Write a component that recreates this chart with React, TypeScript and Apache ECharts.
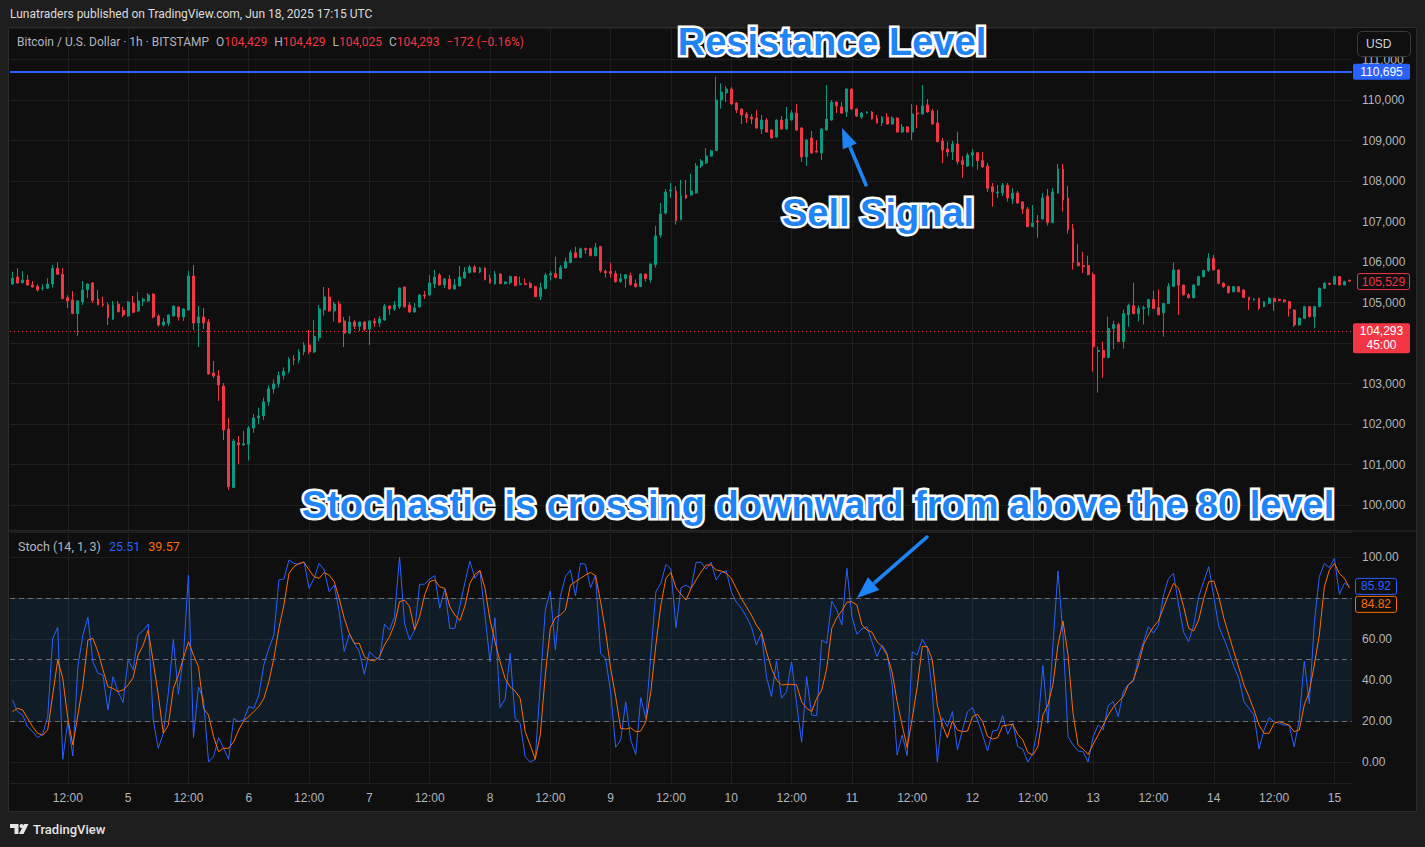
import { useEffect, useRef } from 'react';
import * as echarts from 'echarts';

// ---------- data (BTC/USD 1h, Bitstamp, Jun 4 01:00 -> Jun 15 03:00) ----------
const opens = [
  105457, 105630, 105490, 105556, 105432, 105400, 105350, 105350, 105457, 105845,
  105700, 105120, 105060, 104725, 105020, 105320, 105482, 105087, 104963, 104940,
  104588, 104963, 104800, 104667, 104988, 104790, 105035, 105037, 105210, 104667,
  104445, 104490, 104667, 104890, 104642, 104815, 105655, 104494, 104642, 104519,
  103260, 103190, 102939, 101877, 100430, 101540, 101482, 101500, 101900, 102150,
  102200, 102550, 102870, 102990, 103200, 103300, 103600, 103580, 103780, 103951,
  103780, 104136, 104815, 105136, 104790, 104963, 104544, 104242, 104519, 104413,
  104519, 104346, 104544, 104494, 104568, 104914, 104840, 104890, 105383, 104939,
  104766, 104890, 105185, 105185, 105457, 105679, 105432, 105580, 105334, 105407,
  105605, 105740, 105877, 105753, 105852, 105590, 105466, 105704, 105466, 105490,
  105640, 105442, 105466, 105466, 105392, 105145, 105343, 105679, 105713, 105590,
  105852, 105985, 106230, 106110, 106330, 106330, 106157, 106380, 105765, 105765,
  105713, 105515, 105590, 105664, 105466, 105392, 105704, 105565, 105935, 106667,
  107210, 107753, 107753, 107047, 107655, 107655, 107704, 108370, 108445, 108617,
  108750, 110000, 110173, 110272, 109926, 109778, 109655, 109580, 109556, 109284,
  109506, 109260, 109087, 109506, 109284, 109506, 109679, 109309, 108593, 109062,
  108740, 108691, 109259, 109506, 109950, 109827, 109704, 110272, 109778, 109580,
  109679, 109704, 109556, 109432, 109580, 109407, 109556, 109210, 109333, 109210,
  109679, 109655, 109877, 109729, 109432, 108988, 108790, 108716, 108914, 108503,
  108371, 108642, 108700, 108503, 108370, 107860, 107704, 107704, 107895, 107556,
  107704, 107482, 107309, 106872, 107013, 107062, 107630, 106976, 107704, 108296,
  107580, 106825, 105985, 105910, 105910, 105689, 103790, 103815, 103640, 104356,
  104454, 104035, 104700, 104923, 104725, 104850, 104874, 105072, 104874, 104750,
  104973, 105400, 105803, 105430, 105190, 105120, 105430, 105638, 105790, 106091,
  105803, 105474, 105400, 105267, 105391, 105309, 105128, 105062, 105103, 104897,
  104980, 105103, 105080, 105062, 105021, 104815, 104445, 104610, 104897, 104650,
  104897, 105350, 105474, 105450, 105638, 105432, 105550,
];
const closes = [
  105598, 105482, 105556, 105432, 105383, 105310, 105360, 105457, 105845, 105700,
  105096, 105040, 104733, 105040, 105309, 105457, 105047, 104948, 104940, 104627,
  104940, 104773, 104692, 105013, 104758, 105037, 105080, 105185, 104642, 104445,
  104519, 104692, 104914, 104642, 104840, 105655, 104494, 104642, 104494, 103235,
  103186, 102963, 101852, 100452, 101581, 101482, 101510, 101900, 102150, 102200,
  102550, 102870, 102990, 103200, 103300, 103600, 103580, 103780, 103951, 103780,
  104160, 104840, 105136, 104790, 104963, 104511, 104242, 104519, 104413, 104519,
  104340, 104544, 104494, 104593, 104914, 104840, 104939, 105358, 104890, 104766,
  104864, 105185, 105160, 105482, 105630, 105432, 105580, 105334, 105432, 105630,
  105753, 105877, 105753, 105852, 105564, 105490, 105704, 105466, 105507, 105640,
  105417, 105466, 105442, 105368, 105145, 105368, 105679, 105713, 105614, 105861,
  106008, 106230, 106110, 106330, 106306, 106157, 106355, 105788, 105737, 105713,
  105515, 105590, 105687, 105442, 105392, 105704, 105590, 105951, 106642, 107185,
  107729, 107778, 107020, 107630, 107580, 107753, 108370, 108494, 108617, 108740,
  110000, 110197, 110272, 109901, 109753, 109630, 109556, 109530, 109309, 109506,
  109210, 109062, 109506, 109284, 109530, 109679, 109259, 108593, 109012, 108691,
  108716, 109284, 109531, 109950, 109852, 109679, 110272, 109778, 109605, 109679,
  109704, 109530, 109432, 109580, 109407, 109556, 109210, 109333, 109210, 109655,
  109655, 109852, 109704, 109407, 108970, 108766, 108716, 108914, 108477, 108404,
  108642, 108700, 108503, 108346, 107820, 107728, 107728, 107895, 107580, 107704,
  107457, 107309, 106872, 106963, 106988, 107580, 106976, 107728, 108296, 107531,
  106800, 105985, 105910, 105886, 105689, 103910, 103815, 103640, 104356, 104454,
  104035, 104726, 104923, 104725, 104850, 104874, 105072, 104850, 104700, 104973,
  105400, 105803, 105430, 105190, 105120, 105430, 105638, 105790, 106091, 105803,
  105474, 105391, 105243, 105391, 105267, 105128, 105062, 105080, 104856, 105021,
  105103, 105021, 105050, 105020, 104856, 104445, 104610, 104897, 104650, 104897,
  105350, 105474, 105450, 105638, 105432, 105515, 105529,
];
const highs = [
  105761, 105845, 105778, 105680, 105530, 105450, 105450, 105600, 105926, 105993,
  105850, 105180, 105284, 105060, 105531, 105482, 105507, 105309, 105143, 104997,
  105037, 105037, 104890, 105030, 105160, 105260, 105120, 105235, 105225, 104709,
  104617, 104700, 104930, 104900, 104860, 105785, 105926, 104914, 104865, 104593,
  103556, 103334, 103013, 102149, 101630, 101704, 101828, 101950, 102250, 102400,
  102650, 102950, 103100, 103300, 103400, 103650, 103700, 103850, 104025, 104321,
  104568, 104939, 105383, 105358, 105020, 105037, 104642, 104667, 104568, 104530,
  104530, 104560, 104617, 104667, 104963, 104930, 105037, 105370, 105395, 105013,
  104988, 105210, 105284, 105679, 105803, 105729, 105605, 105679, 105580, 105901,
  105877, 105926, 105926, 105880, 105870, 105687, 105778, 105720, 105520, 105664,
  105655, 105640, 105590, 105516, 105417, 105490, 105737, 105778, 106131, 105926,
  106110, 106297, 106380, 106355, 106355, 106355, 106470, 106390, 105810, 105985,
  105785, 105713, 105700, 105737, 105565, 105720, 105715, 105965, 106889, 107457,
  107802, 107951, 107877, 108025, 108025, 108180, 108445, 108543, 108815, 108770,
  110575, 110411, 110345, 110321, 109950, 109790, 109704, 109655, 109753, 109630,
  109556, 109284, 109520, 109605, 109827, 109753, 109901, 109333, 109037, 109235,
  109012, 109309, 110370, 110000, 109965, 109950, 110285, 110285, 109790, 109704,
  109720, 109730, 109630, 109595, 109679, 109600, 109570, 109407, 109350, 109901,
  109877, 110370, 110025, 109778, 109753, 109062, 108972, 108988, 109218, 108617,
  108700, 108790, 108710, 108716, 108445, 107951, 107901, 107951, 107951, 107827,
  107753, 107506, 107358, 107407, 107160, 107704, 107802, 107827, 108420, 108420,
  107877, 106939, 106452, 106255, 106156, 105738, 103911, 104035, 104651, 104552,
  104503, 104825, 104973, 105490, 104923, 104923, 105085, 105293, 105318, 104990,
  105480, 105990, 105820, 105450, 105230, 105450, 105660, 105810, 106215, 106173,
  105820, 105500, 105420, 105410, 105400, 105330, 105140, 105110, 105120, 105040,
  105130, 105120, 105090, 105075, 105040, 104830, 104630, 104920, 104910, 104920,
  105370, 105500, 105490, 105660, 105650, 105540, 105560,
];
const lows = [
  105430, 105460, 105470, 105420, 105370, 105270, 105290, 105340, 105370, 105680,
  105080, 104865, 104708, 104180, 104939, 105111, 104988, 104930, 104890, 104445,
  104570, 104760, 104642, 104650, 104740, 104775, 104914, 105020, 104610, 104404,
  104410, 104420, 104650, 104555, 104545, 104800, 104322, 103901, 104346, 103220,
  103136, 102568, 101605, 100371, 100420, 101013, 101460, 101100, 101780, 102000,
  102100, 102450, 102750, 102900, 103100, 103250, 103450, 103500, 103700, 103720,
  103750, 104050, 104675, 104770, 104528, 104500, 103901, 104230, 104346, 104297,
  104297, 103951, 104395, 104395, 104550, 104692, 104790, 104840, 104880, 104741,
  104750, 104880, 105087, 105170, 105358, 105420, 105358, 105320, 105320, 105390,
  105590, 105720, 105740, 105720, 105550, 105466, 105442, 105450, 105442, 105442,
  105400, 105430, 105430, 105350, 105130, 105062, 105330, 105540, 105600, 105580,
  105840, 105970, 106100, 106100, 106200, 106140, 106140, 105737, 105615, 105615,
  105490, 105490, 105368, 105417, 105368, 105380, 105515, 105490, 105861, 106600,
  107170, 107580, 106923, 107030, 107556, 107640, 107690, 108320, 108420, 108600,
  108740, 109785, 109950, 109890, 109679, 109407, 109432, 109407, 109290, 109160,
  109200, 109050, 109070, 109270, 109270, 109490, 109240, 108469, 108370, 108670,
  108700, 108519, 109240, 109490, 109679, 109660, 109580, 109760, 109580, 109530,
  109660, 109515, 109420, 109358, 109395, 109395, 109195, 109185, 109195, 109012,
  109309, 109640, 109690, 109395, 108955, 108437, 108602, 108519, 108404, 108082,
  108346, 108346, 108280, 108330, 107728, 107366, 107580, 107630, 107490, 107432,
  107440, 107185, 106860, 106860, 106600, 107050, 106900, 106960, 107690, 107243,
  106701, 105812, 105890, 105725, 105670, 103292, 102775, 103144, 103620, 103846,
  104020, 103862, 104405, 104710, 104528, 104454, 104676, 104835, 104685, 104158,
  104960, 105380, 104692, 105170, 105100, 105100, 105410, 105620, 105760, 105790,
  105450, 105360, 105220, 105250, 105250, 105110, 104815, 105040, 104815, 104880,
  104960, 104795, 105030, 105000, 104650, 104400, 104430, 104590, 104630, 104363,
  104880, 105330, 105430, 105440, 105420, 105420, 105510,
];

// Stochastic (14, 1, 3): %K (blue) and %D (orange)
const stochK = [
  30.2, 24.6, 22.9, 17.2, 14.8, 11.9, 13.5, 22.1, 60.3, 65.7,
  1.3, 19.7, 2.9, 46.5, 62, 70.6, 48.9, 43.3, 42.4, 25.4,
  41.6, 34.3, 28.9, 50.1, 44.9, 62, 64.1, 67.3, 20.5, 6.7,
  14, 33.5, 59.8, 33, 51.4, 91.2, 11.9, 36.7, 30.6, 0,
  2.6, 11.9, 6.7, 1.3, 21.3, 19.7, 20.5, 27, 26.2, 32.7,
  47.3, 55.4, 62, 88.8, 89.3, 98.5, 96.9, 96.4, 97.7, 84.7,
  89.6, 96.9, 93.7, 83.1, 86.3, 73.3, 53.8, 62.3, 57.9, 53.8,
  42.8, 53.8, 51.4, 49.8, 67.2, 64.4, 70.9, 100, 67.6, 59.5,
  64.4, 86.7, 86.7, 89.3, 90.9, 75, 84.4, 65.2, 65.2, 76,
  87.5, 98, 89.6, 93.2, 71.7, 48.9, 70.4, 26.5, 30.7, 53,
  21.3, 18.9, 2.6, 0, 1.3, 37.6, 74.1, 83.4, 54.6, 80.7,
  90.4, 93.7, 81.1, 96.9, 96.4, 85, 91.2, 53, 50.6, 34.3,
  7.2, 10.7, 29.4, 10.7, 3.7, 31.4, 21.3, 52.2, 83.1, 87.2,
  96.4, 94.1, 65.5, 85, 86.3, 84.7, 97.4, 97.4, 94.1, 97.4,
  88.8, 92.5, 93.2, 83.1, 78, 75, 70.9, 66, 57.1, 62.8,
  41.6, 31.9, 49.3, 31.1, 34.3, 48.9, 28.6, 9.6, 41.6, 22.9,
  22.6, 59.5, 57.9, 78.5, 74.1, 66.8, 94.5, 70.9, 62.3, 64.9,
  66, 58.7, 51.4, 57.1, 53, 37.6, 3.4, 13.2, 3.1, 53.8,
  52.2, 60, 55.4, 34.3, 0, 21.6, 17.2, 24.6, 5.9, 15.6,
  24.6, 26.5, 20.5, 13.2, 5.4, 15.1, 15.6, 22.6, 13.5, 18.9,
  7.5, 6.3, 0, 4.2, 17.2, 47, 18.9, 57.1, 93.2, 62,
  12.4, 8.3, 5.4, 5, 0, 12.4, 18, 15.6, 27.5, 29.4,
  22.1, 34.3, 37.9, 39.2, 50.6, 58.4, 66, 62.8, 66.8, 81.5,
  89.6, 92, 76.6, 63.3, 58.7, 66.8, 80.7, 88, 95.3, 80.7,
  66, 60.3, 53.8, 46.5, 40.8, 29.4, 26.2, 22.9, 6.3, 15.6,
  21.6, 19.7, 18.9, 18, 18, 7.5, 20.5, 49.3, 28.5, 67.6,
  90.4, 96.9, 94.8, 99.3, 81.8, 87.2, 85.92,
];
const stochD = [
  24.6, 26.2, 25.4, 21.3, 17.2, 14, 13.2, 15.6, 32.7, 49.8,
  40.8, 21.3, 8.3, 22.9, 37.6, 59.5, 60.3, 53.8, 44.9, 36.7,
  35.9, 34.3, 35.1, 37.6, 41.1, 52.2, 57.1, 64.4, 48.9, 32.7,
  14, 18, 35.9, 42.4, 50.6, 58.7, 52.2, 46.5, 26.2, 22.9,
  12.4, 5, 6.7, 6.7, 9.9, 15.6, 20.2, 22.1, 24.6, 27,
  31, 39.2, 50.6, 65.2, 76.6, 92, 95.3, 96.9, 97.4, 93.7,
  90.4, 89.6, 92.4, 91.2, 88, 79.7, 70.1, 62.8, 57.9, 57.9,
  51.4, 49.8, 49.3, 51.4, 57.1, 61.1, 67.2, 78.2, 79, 75.8,
  64.4, 70.9, 81.5, 88, 88.8, 85.5, 84.7, 75.8, 71.7, 69,
  76, 87.2, 91.5, 93.5, 84.7, 69.3, 58.7, 48.9, 40.8, 36.7,
  34.6, 31.1, 14.8, 8.3, 1.3, 13.2, 42.4, 65.2, 70.4, 71.7,
  74.1, 86.3, 88, 89.6, 91.2, 92.5, 90.9, 78.2, 63.6, 45.7,
  31.9, 16.4, 16.1, 16.7, 14.8, 15.1, 19.7, 34.3, 57.1, 76.6,
  89.6, 92.5, 85, 81.8, 79, 84.7, 88.8, 92.8, 96.1, 96.1,
  93.7, 93.2, 92, 89.6, 84.7, 79.8, 75.8, 71.7, 66.8, 63.3,
  53.8, 45.7, 40, 37.6, 37.9, 37.9, 37.6, 29.4, 26.2, 24.6,
  31.1, 35.1, 45.7, 65.2, 70.4, 73.7, 77.9, 78.2, 76.6, 66.8,
  64.4, 63.3, 58.7, 56.3, 52.2, 43.9, 29.4, 18, 7, 21.3,
  36.7, 56.3, 56.3, 49.8, 27.8, 18, 11.9, 20, 15.6, 14.8,
  15.1, 22.1, 23.3, 19.7, 12.4, 11.2, 11.9, 17.7, 18, 18.4,
  13.5, 10.7, 4.7, 3.4, 7.5, 22.9, 27.8, 37.9, 57.1, 68.8,
  52.2, 23.7, 8.3, 6.3, 3.7, 8.6, 13.2, 18, 22.9, 26.7,
  29.4, 31.9, 37.6, 40, 47.3, 57.1, 62, 66, 68.8, 75.3,
  81.5, 87.2, 84.7, 75.8, 65.2, 63.9, 69.3, 79.7, 88, 88.3,
  80.7, 70.1, 62, 53.8, 45.9, 37.6, 31.9, 25.4, 18, 14,
  14, 18.9, 19.7, 18.9, 18, 14.8, 15.6, 27.8, 34.3, 47.3,
  62, 85.5, 93.7, 96.9, 92, 89.6, 84.82,
];

// levels and labels
const resistanceLevel = 110695;
const livePrice = 104293;
const lastClose = 105529;
const stochBands = [80, 50, 20];
const lastK = 85.92;
const lastD = 84.82;

// time categories: hourly from Jun 4 01:00
const startDay = 4;
const startHour = 1;
const hours: number[] = [];
const days: number[] = [];
const times: string[] = [];
for (let i = 0; i < closes.length; i++) {
  const t = startHour + i;
  const d = startDay + Math.floor(t / 24);
  const h = t % 24;
  hours.push(h);
  days.push(d);
  times.push(`Jun ${d} ${String(h).padStart(2, '0')}:00`);
}
const isMajor = (i: number) => hours[i] === 0 || hours[i] === 12;

const UP = '#089981';
const DOWN = '#f23645';
const BLUE = '#2962ff';
const ORANGE = '#ff6d00';
const GRID = '#1f1f1f';
const AXIS_TXT = '#b2b5be';
const ANNO = '#1f84f5';

const candleData = opens.map((o, i) => [o, closes[i], lows[i], highs[i]]);

function buildOption(): any {
  const xCommon = {
    type: 'category',
    data: times,
    boundaryGap: true,
    axisLine: { show: false },
    axisTick: { show: false },
    splitLine: {
      show: true,
      interval: (i: number) => isMajor(i),
      alignWithLabel: true,
      lineStyle: { color: GRID, width: 1 },
    },
  };
  return {
    animation: false,
    backgroundColor: '#0f0f0f',
    grid: [
      { left: 10, right: 73, top: 28, height: 502 },
      { left: 10, right: 73, top: 532, height: 251 },
    ],
    xAxis: [
      { ...xCommon, gridIndex: 0, axisLabel: { show: false } },
      {
        ...xCommon,
        gridIndex: 1,
        axisLabel: {
          show: true,
          interval: (i: number) => isMajor(i),
          formatter: (_v: string, i: number) => (hours[i] === 0 ? String(days[i]) : '12:00'),
          color: AXIS_TXT,
          fontSize: 12,
          fontFamily: 'Liberation Sans',
          margin: 9,
        },
      },
    ],
    yAxis: [
      {
        type: 'value',
        gridIndex: 0,
        position: 'right',
        min: 99383,
        max: 111778,
        splitNumber: 12,
        minInterval: 1000,
        maxInterval: 1000,
        axisLine: { show: false },
        axisTick: { show: false },
        axisLabel: {
          color: AXIS_TXT,
          fontSize: 12,
          fontFamily: 'Liberation Sans',
          margin: 10,
          showMinLabel: false,
          showMaxLabel: false,
          // the live-price tag covers the nearest scale label
          formatter: (v: number) => (Math.abs(v - livePrice) < 500 ? '' : Math.round(v).toLocaleString('en-US')),
        },
        splitLine: { lineStyle: { color: GRID } },
      },
      {
        type: 'value',
        gridIndex: 1,
        position: 'right',
        min: -10.24,
        max: 112.2,
        splitNumber: 6,
        minInterval: 20,
        maxInterval: 20,
        axisLine: { show: false },
        axisTick: { show: false },
        axisLabel: {
          color: AXIS_TXT,
          fontSize: 12,
          fontFamily: 'Liberation Sans',
          margin: 10,
          showMinLabel: false,
          showMaxLabel: false,
          // the %K / %D tags cover the 80 label
          formatter: (v: number) => (Math.abs(v - 80) < 1 ? '' : v.toFixed(2)),
        },
        splitLine: { lineStyle: { color: GRID } },
      },
    ],
    series: [
      {
        type: 'candlestick',
        name: 'BTCUSD',
        xAxisIndex: 0,
        yAxisIndex: 0,
        data: candleData,
        barWidth: 2.4,
        clip: true,
        itemStyle: {
          color: UP,
          color0: DOWN,
          borderColor: UP,
          borderColor0: DOWN,
          borderWidth: 1,
        },
        markLine: {
          silent: true,
          symbol: ['none', 'none'],
          label: { show: false },
          data: [
            { yAxis: resistanceLevel, lineStyle: { color: BLUE, width: 2, type: 'solid' } },
            { yAxis: livePrice, lineStyle: { color: DOWN, width: 1, type: [1, 3] } },
          ],
        },
      },
      {
        type: 'line',
        name: '%K',
        xAxisIndex: 1,
        yAxisIndex: 1,
        data: stochK,
        symbol: 'none',
        lineStyle: { color: BLUE, width: 1 },
        itemStyle: { color: BLUE },
        z: 3,
        markArea: {
          silent: true,
          itemStyle: { color: 'rgba(33,150,243,0.1)' },
          data: [[{ yAxis: stochBands[2] }, { yAxis: stochBands[0] }]],
        },
        markLine: {
          silent: true,
          symbol: ['none', 'none'],
          label: { show: false },
          lineStyle: { color: '#6b6e78', width: 1, type: [5, 4] },
          data: stochBands.map((b) => ({ yAxis: b })),
        },
      },
      {
        type: 'line',
        name: '%D',
        xAxisIndex: 1,
        yAxisIndex: 1,
        data: stochD,
        symbol: 'none',
        lineStyle: { color: ORANGE, width: 1 },
        itemStyle: { color: ORANGE },
        z: 4,
      },
    ],
  };
}

function txt(x: number, y: number, text: string, o: any = {}): any {
  const align = o.align || 'left';
  return {
    type: 'text',
    x,
    y,
    silent: true,
    z: o.z || 40,
    style: {
      text,
      fill: o.fill || '#d1d4dc',
      fontSize: o.fontSize || 12,
      fontFamily: o.fontFamily || 'Liberation Sans',
      fontWeight: o.fontWeight || 'normal',
      align,
      textAlign: align,
      verticalAlign: 'middle',
      textVerticalAlign: 'middle',
      ...(o.extra || {}),
    },
  };
}

function arrow(tail: number[], tip: number[], len: number, half: number): any[] {
  const dx = tip[0] - tail[0];
  const dy = tip[1] - tail[1];
  const L = Math.hypot(dx, dy);
  const ux = dx / L;
  const uy = dy / L;
  const bx = tip[0] - ux * len;
  const by = tip[1] - uy * len;
  const px = -uy;
  const py = ux;
  return [
    {
      type: 'line',
      silent: true,
      z: 45,
      shape: { x1: tail[0], y1: tail[1], x2: bx + ux * 2, y2: by + uy * 2 },
      style: { stroke: ANNO, lineWidth: 3.5, lineCap: 'round', shadowBlur: 3, shadowColor: 'rgba(0,0,0,0.6)' },
    },
    {
      type: 'polygon',
      silent: true,
      z: 45,
      shape: {
        points: [
          [tip[0], tip[1]],
          [bx + px * half, by + py * half],
          [bx - px * half, by - py * half],
        ],
      },
      style: { fill: ANNO, shadowBlur: 3, shadowColor: 'rgba(0,0,0,0.6)' },
    },
  ];
}

function bigText(x: number, y: number, text: string): any {
  return txt(x, y, text, {
    align: 'center',
    fontSize: 38,
    fontWeight: 'bold',
    fontFamily: 'Liberation Sans',
    fill: ANNO,
    z: 50,
    extra: {
      stroke: '#ffffff',
      lineWidth: 5,
      strokeFirst: true,
      lineJoin: 'round',
      shadowBlur: 6,
      shadowColor: 'rgba(0,0,0,0.85)',
    },
  });
}

function priceBox(x: number, y: number, w: number, h: number, o: any): any {
  return {
    type: 'rect',
    silent: true,
    z: 35,
    shape: { x, y, width: w, height: h, r: 2 },
    style: { fill: o.fill, stroke: o.stroke || null, lineWidth: 1 },
  };
}

function buildGraphics(py: (v: number) => number, sy: (v: number) => number): any[] {
  const g: any[] = [];
  const FRAME = '#1e1e1e';
  // outer frame
  g.push({ type: 'rect', silent: true, z: 30, shape: { x: 0, y: 0, width: 1425, height: 27 }, style: { fill: FRAME } });
  g.push({ type: 'rect', silent: true, z: 30, shape: { x: 0, y: 812, width: 1425, height: 35 }, style: { fill: FRAME } });
  g.push({ type: 'rect', silent: true, z: 30, shape: { x: 0, y: 0, width: 8, height: 847 }, style: { fill: FRAME } });
  g.push({ type: 'rect', silent: true, z: 30, shape: { x: 1417, y: 0, width: 8, height: 847 }, style: { fill: FRAME } });
  g.push({ type: 'rect', silent: true, z: 31, shape: { x: 8.5, y: 27.5, width: 1408, height: 784 }, style: { fill: null, stroke: '#2c2c2c', lineWidth: 1 } });
  g.push({ type: 'line', silent: true, z: 31, shape: { x1: 8, y1: 531, x2: 1417, y2: 531 }, style: { stroke: '#2c2c2c', lineWidth: 1 } });

  // header
  g.push(txt(10, 14, 'Lunatraders published on TradingView.com, Jun 18, 2025 17:15 UTC', { fontSize: 12, fontFamily: 'Roboto', fill: '#dcdcdc' }));
  g.push({
    type: 'text',
    x: 17,
    y: 42,
    silent: true,
    z: 40,
    style: {
      text: '{g|Bitcoin / U.S. Dollar · 1h · BITSTAMP}{s| }{g|O}{r|104,429}{s| }{g|H}{r|104,429}{s| }{g|L}{r|104,025}{s| }{g|C}{r|104,293}{s| }{r|−172 (−0.16%)}',
      verticalAlign: 'middle',
      textVerticalAlign: 'middle',
      fontSize: 12,
      fontFamily: 'Roboto',
      rich: {
        g: { fill: AXIS_TXT, fontSize: 12, fontFamily: 'Roboto' },
        r: { fill: DOWN, fontSize: 12, fontFamily: 'Roboto' },
        s: { fill: AXIS_TXT, fontSize: 12, fontFamily: 'Roboto', width: 7 },
      },
    },
  });
  g.push({
    type: 'text',
    x: 18,
    y: 546,
    silent: true,
    z: 40,
    style: {
      text: '{g|Stoch (14, 1, 3)}{s| }{b|25.51}{s| }{o|39.57}',
      verticalAlign: 'middle',
      textVerticalAlign: 'middle',
      fontSize: 12,
      fontFamily: 'Roboto',
      rich: {
        g: { fill: AXIS_TXT, fontSize: 12.5, fontFamily: 'Roboto' },
        b: { fill: BLUE, fontSize: 12.5, fontFamily: 'Roboto' },
        o: { fill: ORANGE, fontSize: 12.5, fontFamily: 'Roboto' },
        s: { fill: AXIS_TXT, fontSize: 12.5, fontFamily: 'Roboto', width: 8 },
      },
    },
  });

  // USD button
  g.push({ type: 'rect', silent: true, z: 36, shape: { x: 1357.5, y: 31.5, width: 53, height: 25, r: 4 }, style: { fill: '#0f0f0f', stroke: '#3a3a3a', lineWidth: 1 } });
  g.push(txt(1366, 44, 'USD', { fontSize: 12, fill: '#d1d4dc' }));

  // right-scale value labels
  const yRes = py(resistanceLevel);
  g.push(priceBox(1353, yRes - 8, 57, 16, { fill: BLUE }));
  g.push(txt(1381.5, yRes, '110,695', { align: 'center', fill: '#ffffff' }));

  const yLast = py(lastClose);
  g.push(priceBox(1357.5, yLast - 7.5, 52, 16, { fill: '#0f0f0f', stroke: DOWN }));
  g.push(txt(1383.5, yLast + 0.5, '105,529', { align: 'center', fill: DOWN }));

  const yLive = py(livePrice);
  g.push(priceBox(1353, yLive - 8, 57, 30, { fill: DOWN }));
  g.push(txt(1381.5, yLive, '104,293', { align: 'center', fill: '#ffffff' }));
  g.push(txt(1381.5, yLive + 14, '45:00', { align: 'center', fill: '#ffffff' }));

  const yK = sy(lastK);
  g.push(priceBox(1355.5, yK - 7.5, 41, 16, { fill: '#0f0f0f', stroke: BLUE }));
  g.push(txt(1376, yK + 0.5, '85.92', { align: 'center', fill: BLUE }));
  const yD = yK + 18;
  g.push(priceBox(1355.5, yD - 7.5, 41, 16, { fill: '#0f0f0f', stroke: ORANGE }));
  g.push(txt(1376, yD + 0.5, '84.82', { align: 'center', fill: ORANGE }));

  // annotations
  g.push(bigText(832, 42, 'Resistance Level'));
  g.push(bigText(878, 213, 'Sell Signal'));
  g.push(bigText(818, 505, 'Stochastic is crossing downward from above the 80 level'));
  g.push(...arrow([866, 185], [842, 128], 20, 7.5));
  g.push(...arrow([927, 537], [857, 598], 22, 8.5));

  // footer logo
  g.push({ type: 'polygon', silent: true, z: 40, shape: { points: [[10, 824], [18.5, 824], [18.5, 834], [14.5, 834], [14.5, 828], [10, 828]] }, style: { fill: '#e6e6e6' } });
  g.push({ type: 'circle', silent: true, z: 40, shape: { cx: 21.5, cy: 826, r: 2 }, style: { fill: '#e6e6e6' } });
  g.push({ type: 'polygon', silent: true, z: 40, shape: { points: [[24, 824], [28.5, 824], [23.5, 834], [19, 834]] }, style: { fill: '#e6e6e6' } });
  g.push(txt(33, 829, 'TradingView', { fontSize: 13, fontFamily: 'Roboto', fontWeight: 500, fill: '#e6e6e6' }));
  return g;
}

export default function App() {
  const ref = useRef<HTMLDivElement>(null);
  useEffect(() => {
    if (!ref.current) return;
    const chart = echarts.init(ref.current, null, { renderer: 'svg' });
    chart.setOption(buildOption());
    const py = (v: number) => chart.convertToPixel({ yAxisIndex: 0 } as any, v) as unknown as number;
    const sy = (v: number) => chart.convertToPixel({ yAxisIndex: 1 } as any, v) as unknown as number;
    chart.setOption({ graphic: { elements: buildGraphics(py, sy) } });
    return () => chart.dispose();
  }, []);
  return (
    <div
      ref={ref}
      style={{ position: 'fixed', left: 0, top: 0, width: 1425, height: 847, background: '#0f0f0f' }}
    />
  );
}
